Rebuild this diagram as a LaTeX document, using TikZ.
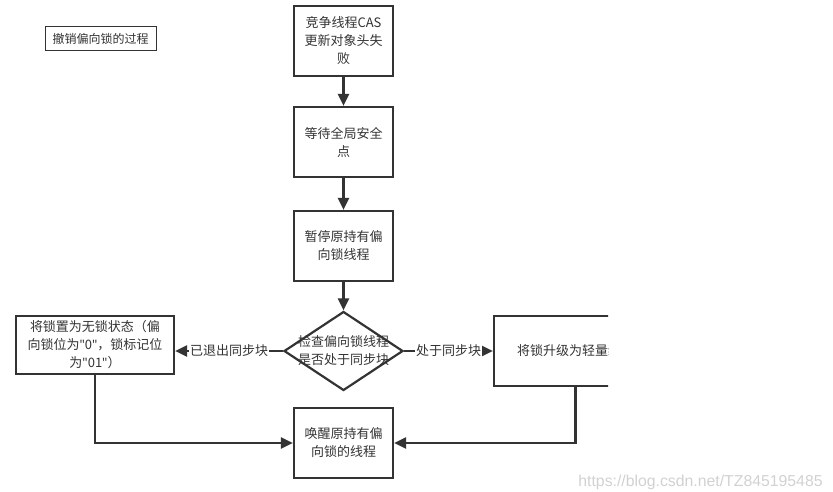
\documentclass[tikz,border=0pt]{standalone}
\usepackage{fontspec}
\setmainfont{Noto Sans CJK SC}
\newfontfamily\markfont{Liberation Sans}
\newfontfamily\quotefont{Noto Sans}
\usetikzlibrary{arrows.meta,shapes.geometric,calc}
\definecolor{linegray}{HTML}{333333}
\newcommand{\dq}{{\quotefont"}}
\tikzstyle{process}   = [rectangle, draw=linegray, line width=2.2pt, minimum width=99pt, minimum height=70pt, inner sep=0pt, align=center, text=linegray, font=\fontsize{13}{18}\selectfont]
\tikzstyle{decision}  = [diamond, draw=linegray, line width=2.2pt, minimum width=119pt, minimum height=79pt, inner sep=0pt]
\tikzstyle{arrow}     = [line width=2.2pt, draw=linegray, -{Triangle[length=12pt,width=11pt]}]
\tikzstyle{edgelabel} = [fill=white, inner sep=1pt, text=linegray, font=\fontsize{13}{18}\selectfont]

\begin{document}
\begin{tikzpicture}[x=1pt,y=-1pt]
		\useasboundingbox (0,0) rectangle (833,492);
		\node[draw=linegray, line width=1pt, minimum width=111pt, minimum height=24pt, inner sep=0pt, text=linegray, font=\fontsize{12}{14}\selectfont] (title) at (100.5,39) {撤销偏向锁的过程};

		\node[process] (fail) at (343.5,41) {竞争线程CAS\\更新对象头失\\败};
		\node[process] (wait) at (343.5,142) {等待全局安全\\点};
		\node[process] (pause) at (343.5,246) {暂停原持有偏\\向锁线程};
		\node[decision] (check) at (343.5,351) {};
		\node[text=linegray, align=center, font=\fontsize{13}{18}\selectfont] (checktext) at (check.center) {检查偏向锁线程\\是否处于同步块};
		\node[process, minimum width=158pt, minimum height=58pt] (unlock) at (95,345) {将锁置为无锁状态（偏\\向锁位为\dq0\dq，锁标记位\\为\dq01\dq）};
		\begin{scope}
			\clip (0,0) rectangle (608,492);
			\node[process, minimum width=163pt] (upgrade) at (575.5,351) {将锁升级为轻量级锁};
		\end{scope}
		\node[process] (wake) at (343.5,443) {唤醒原持有偏\\向锁的线程};

		\draw[arrow] (fail) -- (wait);
		\draw[arrow] (wait) -- (pause);
		\draw[arrow] (pause) -- (check);
		\draw[arrow] (check.west) -- node[edgelabel] (exitlabel) {已退出同步块} (check.west -| unlock.east);
		\draw[arrow] (check.east) -- node[edgelabel] (inlabel) {处于同步块} (upgrade.west);
		\draw[arrow] (unlock.south) |- (wake.west);
		\draw[arrow] (upgrade.south) |- (wake.east);

		\node[text=black!18, font=\markfont\fontsize{15.8}{18}\selectfont] (mark) at (700.5,482) {https://blog.csdn.net/TZ845195485};
	\end{tikzpicture}
\end{document}
